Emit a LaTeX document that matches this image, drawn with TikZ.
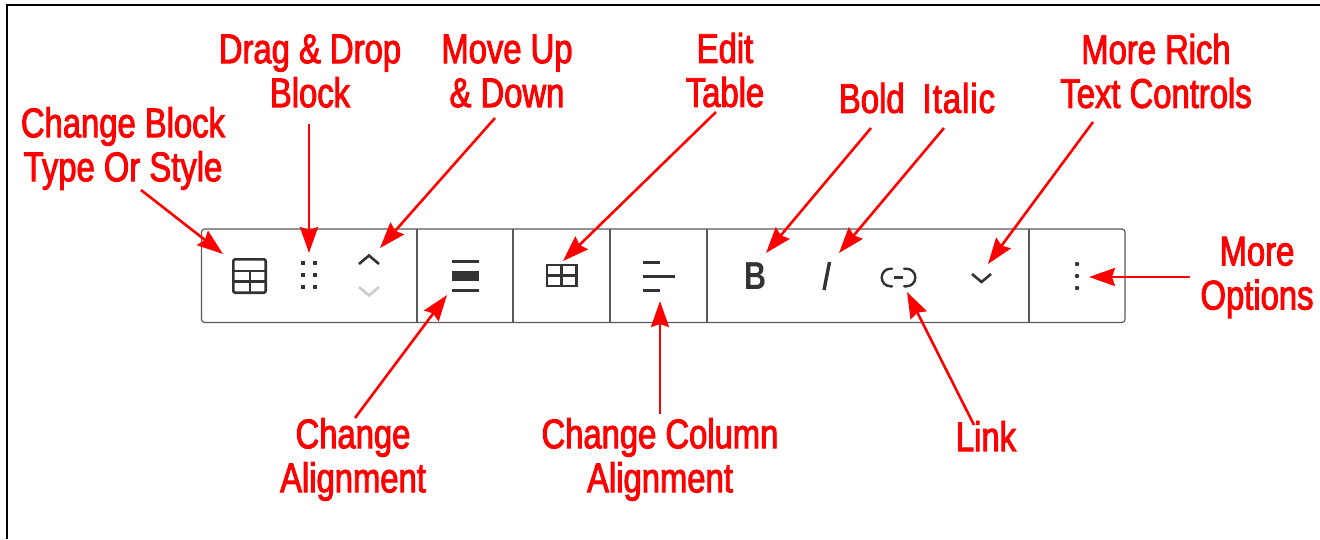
\documentclass[tikz,border=0pt]{standalone}
\usepackage{fontspec}
\setmainfont[FakeStretch=0.79,FakeBold=2.2]{Liberation Sans}
\newfontfamily\boldglyph[FakeStretch=0.78]{Liberation Sans}
\usetikzlibrary{arrows.meta}
\definecolor{ink}{HTML}{333333}
\definecolor{rule}{HTML}{5A5A5A}
\definecolor{faint}{HTML}{CCCCCC}
\tikzset{
  x=1pt,y=-1pt,
  lab/.style={inner sep=0pt,align=center,text=red,font=\fontsize{41.5}{44}\selectfont},
  ptr/.style={draw=red,line width=2.6pt,-{Stealth[length=26pt,width=18pt,inset=3pt,fill=red]}},
  sep/.style={draw=rule,line width=1.2pt},
  ico/.style={draw=ink,line width=2.4pt},
  dotn/.style={circle,fill=ink,inner sep=0pt,minimum size=4.4pt},
}
\begin{document}
\begin{tikzpicture}
\useasboundingbox (0,0) rectangle (1320,539);
\fill[white] (0,0) rectangle (1320,539);
\draw[black,line width=2pt] (6.5,539) -- (6.5,4.7) -- (1320,4.7);
% toolbar
\node[draw=rule,line width=1.2pt,rounded corners=3pt,minimum width=923.5pt,minimum height=93.5pt,inner sep=0pt,outer sep=0pt,anchor=north west] (bar) at (201.5,229) {};
\foreach \px/\nm in {417/s1,513/s2,610/s3,707/s4,1029/s5}{
  \coordinate (\nm t) at (\px,229);
  \coordinate (\nm b) at (\px,322.5);
  \draw[sep] (\nm t) -- (\nm b);
}
% table icon
\draw[ico,line width=2.6pt,rounded corners=2pt] (233.3,259.3) rectangle (265.7,292.7);
\draw[ico,line width=2.4pt] (233,271) -- (266,271) (233,281.5) -- (266,281.5) (250,271) -- (250,292.7);
% drag dots
\foreach \dx in {303,315}\foreach \dy in {263,275,287}{\node[rectangle,fill=ink,inner sep=0pt,minimum size=4pt] at (\dx,\dy) {};}
% chevrons
\draw[ico,line width=2.6pt] (359,264) -- (369,255.5) -- (379,264);
\draw[faint,line width=2.6pt] (359,287) -- (369,295.5) -- (379,287);
% align icon
\fill[ink] (452,260) rectangle (479,263);
\fill[ink] (452,271) rectangle (479,281);
\fill[ink] (452,288.5) rectangle (479,291.5);
% edit table
\draw[ico] (546.7,265) rectangle (576.3,286);
\draw[ico] (546.7,275.5) -- (576.3,275.5) (561.5,265) -- (561.5,286);
% column align
\fill[ink] (643,260.5) rectangle (660,263.5);
\fill[ink] (643,274.5) rectangle (674.5,277.5);
\fill[ink] (643,288.5) rectangle (660,291.5);
% bold, italic
\node[inner sep=0pt,text=ink] (boldn) at (755.5,276) {\boldglyph\fontsize{39}{39}\selectfont\bfseries B};
\draw[ink,line width=3.4pt] (829.5,262) -- (824,290);
% link
\draw[ico,line cap=round] (892,268.7) -- (890.5,268.7) arc[start angle=90,end angle=270,radius=8.8pt] -- (892,286.3);
\draw[ico,line cap=round] (904,268.7) -- (906.5,268.7) arc[start angle=90,end angle=-90,radius=8.8pt] -- (904,286.3);
\draw[ico] (894,277.5) -- (903,277.5);
% more chevron
\draw[ico,line width=2.6pt] (972,274) -- (981.5,282) -- (991,274);
% kebab
\foreach \dy in {264,276,288}{\node[dotn] at (1077,\dy) {};}
% labels
\node[lab] (dd) at (310,71) {Drag \& Drop\\Block};
\node[lab] (cb) at (123,148.5) {Change Block\\Type Or Style};
\node[lab] (mu) at (507,71) {Move Up\\\& Down};
\node[lab] (et) at (725,70) {Edit\\Table};
\node[lab] (bi) at (917,98) {Bold\hspace{9pt} I\kern1pt t\kern1pt a\kern1pt l\kern1pt i\kern1pt c};
\node[lab] (mr) at (1156,71) {More Rich\\Text Controls};
\node[lab] (mo) at (1257,277.5) {More\\Options};
\node[lab] (ca) at (353,459.5) {Change\\Alignment};
\node[lab] (cc) at (660,459.5) {Change Column\\Alignment};
\node[lab] (lk) at (986,436) {Link};
% arrow ends
\foreach \nm/\ax/\ay/\bx/\by in {
 a/141/190/223/254, b/309/124/309/253, c/495/118/380/248, d/716/112/563/261,
 e/871/128/766/253, f/944/128/839/253, g/1093/122/988/264, h/1190/277/1089/277,
 i/974/425/907/292, j/660/414/660/301, k/355/418/447/295}{
  \coordinate (\nm s) at (\ax,\ay);
  \coordinate (\nm e) at (\bx,\by);
  \draw[ptr] (\nm s) -- (\nm e);
}
\end{tikzpicture}
\end{document}
